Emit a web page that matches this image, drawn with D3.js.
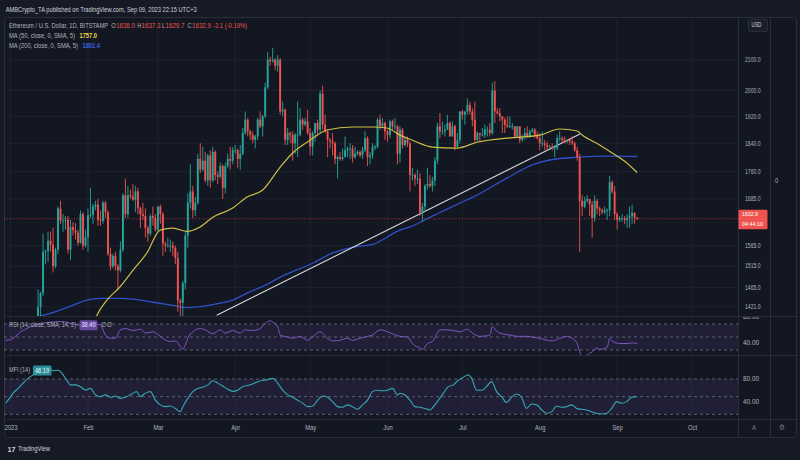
<!DOCTYPE html>
<html><head><meta charset="utf-8">
<script src="https://cdn.jsdelivr.net/npm/d3@7"></script>
<style>
html,body{margin:0;padding:0;background:#161a25;}
svg{display:block;font-family:"Liberation Sans",Arial,sans-serif;}
</style></head><body>
<svg id="c" width="800" height="460"></svg>
<script>
// ---------------- DATA ----------------
const candleStart = [2023, 0, 11]; // first daily candle (Jan 11, 2023)
// daily [open, high, low, close]
const ohlc = [
[1335,1395,1320,1390],[1390,1460,1370,1420],[1420,1455,1385,1452],[1452,1595,1445,1550],[1550,1555,1520,1552],
[1552,1600,1525,1577],[1577,1600,1550,1567],[1567,1610,1500,1515],[1515,1560,1510,1555],[1555,1665,1545,1660],
[1660,1680,1620,1628],[1628,1645,1600,1628],[1628,1640,1605,1630],[1630,1640,1545,1555],[1555,1630,1530,1612],
[1612,1625,1590,1604],[1604,1622,1580,1597],[1597,1605,1565,1572],[1572,1655,1570,1645],[1645,1650,1555,1565],
[1565,1605,1560,1586],
// Feb
[1586,1660,1550,1642],[1642,1715,1635,1643],[1643,1672,1620,1665],[1665,1680,1655,1670],[1670,1685,1615,1630],
[1630,1655,1615,1628],[1628,1680,1620,1675],[1675,1680,1635,1650],[1650,1655,1540,1545],[1545,1560,1505,1515],
[1515,1545,1510,1540],[1540,1550,1505,1515],[1515,1520,1460,1505],[1505,1575,1500,1555],[1555,1700,1550,1695],
[1695,1740,1635,1645],[1645,1720,1635,1695],[1695,1710,1685,1692],[1692,1725,1680,1683],[1683,1720,1650,1705],
[1705,1715,1645,1660],[1660,1665,1610,1645],[1645,1675,1630,1640],[1640,1660,1585,1610],[1610,1615,1575,1595],
[1595,1645,1590,1640],[1640,1665,1615,1635],[1635,1645,1600,1605],
// Mar
[1605,1665,1600,1665],[1665,1670,1620,1645],[1645,1650,1540,1570],[1570,1575,1550,1565],[1565,1585,1560,1565],
[1565,1580,1550,1565],[1565,1575,1540,1560],[1560,1565,1520,1535],[1535,1550,1410,1435],[1435,1440,1370,1430],
[1430,1480,1395,1475],[1475,1600,1460,1590],[1590,1700,1560,1675],[1675,1780,1660,1705],[1705,1720,1635,1655],
[1655,1690,1640,1675],[1675,1810,1670,1795],[1795,1840,1755,1765],[1765,1830,1760,1790],[1790,1815,1730,1735],
[1735,1810,1720,1805],[1805,1820,1715,1735],[1735,1830,1730,1815],[1815,1820,1735,1750],[1750,1760,1725,1745],
[1745,1785,1740,1775],[1775,1780,1685,1715],[1715,1785,1700,1775],[1775,1810,1770,1795],[1795,1830,1765,1790],
[1790,1830,1780,1820],
// Apr
[1820,1835,1810,1820],[1820,1825,1770,1795],[1795,1835,1765,1810],[1810,1885,1805,1870],[1870,1935,1865,1910],
[1910,1915,1860,1875],[1875,1880,1850,1865],[1865,1875,1840,1850],[1850,1865,1825,1860],[1860,1915,1850,1910],
[1910,1935,1885,1890],[1890,1925,1860,1920],[1920,2025,1915,2010],[2010,2125,2005,2100],[2100,2110,2080,2095],
[2095,2140,2090,2100],[2100,2105,2065,2080],[2080,2115,2060,2100],[2100,2105,1925,1935],[1935,1965,1920,1940],
[1940,1945,1835,1850],[1850,1885,1835,1870],[1870,1875,1840,1865],[1865,1875,1790,1840],[1840,1870,1810,1865],
[1865,1965,1800,1865],[1865,1945,1860,1910],[1910,1915,1880,1895],[1895,1915,1890,1905],[1905,1940,1865,1870],
// May
[1870,1885,1805,1830],[1830,1875,1805,1870],[1870,1900,1845,1900],[1900,1910,1860,1880],[1880,2000,1870,1990],
[1990,2015,1880,1895],[1895,1925,1870,1875],[1875,1880,1800,1850],[1850,1855,1825,1845],[1845,1870,1805,1840],
[1840,1845,1780,1795],[1795,1805,1740,1800],[1800,1815,1790,1795],[1795,1825,1790,1800],[1800,1860,1800,1820],
[1820,1830,1800,1825],[1825,1840,1795,1825],[1825,1835,1785,1800],[1800,1830,1795,1810],[1810,1820,1805,1815],
[1815,1820,1800,1805],[1805,1830,1795,1820],[1820,1875,1815,1855],[1855,1860,1775,1800],[1800,1815,1780,1805],
[1805,1840,1795,1830],[1830,1835,1820,1830],[1830,1915,1825,1910],[1910,1925,1880,1890],[1890,1915,1885,1900],
[1900,1905,1850,1875],
// Jun
[1875,1880,1845,1865],[1865,1910,1855,1905],[1905,1910,1880,1890],[1890,1915,1880,1890],[1890,1895,1780,1810],
[1810,1890,1785,1880],[1880,1885,1825,1835],[1835,1860,1830,1850],[1850,1860,1830,1840],[1840,1845,1705,1750],
[1750,1770,1735,1750],[1750,1755,1720,1740],[1740,1765,1725,1740],[1740,1755,1640,1650],[1650,1675,1625,1665],
[1665,1725,1650,1720],[1720,1770,1710,1725],[1725,1750,1715,1720],[1720,1745,1705,1735],[1735,1800,1720,1790],
[1790,1900,1780,1890],[1890,1930,1855,1875],[1875,1905,1865,1875],[1875,1895,1860,1880],[1880,1925,1880,1900],
[1900,1905,1860,1860],[1860,1905,1860,1890],[1890,1895,1820,1830],[1830,1870,1830,1850],[1850,1935,1840,1935],
// Jul
[1935,1940,1910,1925],[1925,1935,1895,1935],[1935,1975,1925,1955],[1955,1965,1925,1935],[1935,1945,1890,1910],
[1910,1965,1840,1850],[1850,1875,1845,1870],[1870,1870,1845,1865],[1865,1885,1860,1865],[1865,1895,1855,1880],
[1880,1890,1860,1880],[1880,1900,1860,1870],[1870,2025,1865,2000],[2000,2030,1900,1935],[1935,1945,1925,1930],
[1930,1945,1905,1920],[1920,1920,1870,1910],[1910,1915,1870,1895],[1895,1920,1885,1890],[1890,1920,1885,1890],
[1890,1900,1880,1890],[1890,1890,1855,1860],[1860,1890,1855,1890],[1890,1890,1840,1850],[1850,1865,1845,1860],
[1860,1885,1850,1870],[1870,1890,1855,1860],[1860,1880,1855,1875],[1875,1885,1870,1880],[1880,1885,1855,1865],
[1865,1875,1850,1855],
// Aug
[1855,1870,1820,1840],[1840,1875,1830,1840],[1840,1850,1820,1835],[1835,1845,1820,1830],[1830,1835,1820,1830],
[1830,1840,1820,1825],[1825,1835,1800,1825],[1825,1865,1820,1855],[1855,1875,1845,1855],[1855,1860,1840,1850],
[1850,1860,1840,1845],[1845,1850,1840,1850],[1850,1855,1835,1845],[1845,1860,1835,1840],[1840,1845,1815,1820],
[1820,1830,1790,1800],[1800,1810,1550,1680],[1680,1695,1640,1665],[1665,1690,1660,1680],[1680,1695,1675,1685],
[1685,1685,1640,1670],[1670,1680,1585,1635],[1635,1695,1625,1680],[1680,1685,1645,1660],[1660,1665,1640,1655],
[1655,1660,1645,1650],[1650,1665,1645,1655],[1655,1660,1630,1655],[1655,1748,1640,1730],[1730,1735,1700,1705],
[1705,1720,1630,1645],
// Sep
[1645,1650,1605,1630],[1630,1640,1625,1635],[1635,1645,1625,1635],[1635,1640,1620,1630],[1630,1645,1610,1635],
[1635,1665,1610,1640],[1640,1670,1620,1648],[1648,1650,1620,1636],[1636.0,1637.3,1629.7,1632.9]
];
// moving averages: [day since 2023-01-01, price]
const ma50 = [[33,1380],[34.6,1402],[38.6,1436],[43.8,1466],[49,1505],[54.6,1547],[59.9,1604],[65,1609],[70.7,1601],
[75.9,1612],[81,1637],[89,1661],[94.7,1690],[101,1709],[108,1772],[113,1812],[120,1849],[126.8,1879],[137,1888],
[145,1888],[150.8,1885],[156,1864],[161,1849],[169,1829],[178.8,1826],[186.9,1843],[199,1855],[212,1864],
[220,1882],[227,1876],[229,1864],[236,1835],[241,1812],[247,1783],[251,1757]];
const ma200 = [[5,1385],[10.6,1398],[15.8,1406],[22.6,1419],[30.6,1436],[35.8,1440],[43.8,1440],[49,1438],[57,1431],
[65,1424],[70.7,1419],[75.9,1421],[83.9,1429],[89,1436],[94.7,1452],[102.7,1472],[108,1489],[121,1522],[129,1547],
[137,1561],[145,1568],[156,1604],[160,1612],[170,1643],[180,1674],[185.3,1690],[199,1742],[209,1778],[216,1792],
[228,1800],[239,1803],[251,1802]];
const trendLine = [[82.6,1402],[228.1,1867]];
const lastPrice = 1632.9;
const priceTicks = [2100,2000,1920,1840,1760,1685,1565,1515,1465,1421];
const monthLabels = ["2023","Feb","Mar","Apr","May","Jun","Jul","Aug","Sep","Oct"];
// RSI and MFI: [day since 2023-01-01, value]
const rsi = [[-2,45],[0,46],[2,51],[4,58],[6,62],[8,66],[10,68],[12,71],[14,72],[17,73],[20,74],[23,72],[25,70],
[28,68],[30,70],[33,71],[36,68],[38,53],[40,48],[42,48],[44,61],[46,63],[49,60],[52,62],[54,56],[57,58],[60,51],
[62,45],[64,43],[66,44],[68,35],[69,31],[70,38],[71,48],[73,58],[76,63],[78,61],[81,55],[84,61],[86,56],[89,60],
[92,56],[94,61],[97,60],[100,63],[102,71],[104,75],[105,73],[107,66],[108,53],[111,50],[113,48],[116,51],[119,45],
[121,50],[124,58],[127,48],[129,44],[132,45],[135,48],[137,45],[140,48],[143,51],[145,53],[148,61],[151,58],
[153,55],[156,51],[159,50],[161,40],[164,33],[165,31],[167,40],[169,43],[171,56],[172,61],[175,61],[177,60],
[180,58],[183,62],[185,56],[188,51],[191,52],[192,53],[193,66],[195,58],[197,55],[200,53],[203,51],[207,51],
[209,50],[212,48],[215,45],[217,44],[220,48],[223,51],[225,48],[227,40],[228,27],[229,21],[231,22],[232,25],
[233,27],[235,33],[236,31],[239,34],[240,48],[241,44],[244,40],[247,40],[249,41],[251,40]];
const mfi = [[-2,39],[-1,44],[1,56],[3,64],[5,73],[7,81],[9,87],[11,92],[13,99],[15,99],[17,94],[19,95],[20.5,90],
[22.5,78],[24,70],[26,70],[28,67],[30,61],[32,64],[34,53],[36,50],[38,53],[40,49],[42,51],[44,47],[46.5,50],
[48.5,54.5],[50.5,58.5],[52,50],[54,56],[56,58.5],[58,44],[60,36],[62,33],[64,34],[66,30],[68,24.5],[69,33],
[71,47],[73,58.5],[75,64],[77,66],[79,70],[81,77],[83,73],[85,68],[87,62.5],[89,59],[91,61],[93,67],[95,69],
[97,71.5],[99,75.5],[101,78],[103,79],[105,81],[107,73],[109,61],[111,53],[113,49],[115,44],[117,39],[119,33],
[121,34],[123,44],[125,51],[127,49],[129,41.5],[131,33],[133,32],[135,36],[137,33],[139,28.5],[141,36],[143,44],
[145,58.5],[147,61],[149,60],[151,61],[153,64],[155,53],[156,55.7],[158,52.8],[160,44],[162,33],[164,32],[166,30],
[168,27.4],[169.4,33],[171.4,44],[173.4,56],[175.4,67],[177.4,70],[179.4,78],[181.4,83],[183.4,87],[184.7,81],
[186.7,61],[188.7,61],[190.7,67],[192.7,75.5],[194.7,58.5],[196.7,50],[198.7,40],[200.7,49],[202.7,54.5],
[204.7,49],[206.7,30],[208.7,37.5],[210.8,36],[212.8,27.4],[214.8,21.7],[216.8,24.5],[218.8,34],[220.8,32],
[222.8,33],[224.8,36],[226.8,30],[228.8,28.5],[230.8,27.4],[232.8,24.5],[234.8,21.7],[236.8,20.6],[238.8,21.7],
[240.8,30],[242.8,41.5],[244.8,38.7],[246.8,41.5],[248.8,49],[250.8,50]];
const rsiLevels = [70,50,30];
const mfiLevels = [80,50,20];

// ---------------- DRAW ----------------
const C = {page:"#161a25", bg:"#131722", frame:"#2a2e39", grid:"#1e2230", text:"#b2b5be",
  up:"#26a69a", down:"#ef5350", ma50:"#cdbf45", ma200:"#3150c8", rsi:"#7e57c2", mfi:"#35a9b6"};
const SY = 1.25; // vertical stretch of the condensed screenshot text
const svg = d3.select("#c");
const day0 = new Date(2023,0,1).getTime();
const dayDate = d => new Date(day0 + d*864e5);

const P = {l:4, r:738, top:17, mainB:316, rsiT:317, rsiB:355, mfiT:356, mfiB:419.5, axisB:437};

svg.append("rect").attr("width",800).attr("height",460).attr("fill",C.page);
svg.append("rect").attr("x",4.5).attr("y",17.5).attr("width",792).attr("height",420).attr("rx",3)
  .attr("fill",C.bg).attr("stroke",C.frame);

const x = d3.scaleTime().domain([new Date(2023,0,1), new Date(2023,9,1)]).range([10.6, 692]);
const y = d3.scaleLog().domain([1421,2100]).range([306.7,59.7]);
const yR = d3.scaleLinear().domain([30,70]).range([350,324]);
const yM = d3.scaleLinear().domain([20,80]).range([414.3,379]);

const defs = svg.append("defs");
function clip(id, y0, y1){ defs.append("clipPath").attr("id",id).append("rect")
  .attr("x",P.l).attr("y",y0).attr("width",P.r-P.l).attr("height",y1-y0); }
clip("cMain",P.top,P.mainB); clip("cRsi",P.rsiT,P.rsiB); clip("cMfi",P.mfiT,P.mfiB);
defs.append("clipPath").attr("id","cRsiAx").append("rect").attr("x",P.r).attr("y",P.rsiT).attr("width",32).attr("height",P.rsiB-P.rsiT);

const months = monthLabels.map((_,i)=>new Date(2023,i,1));

// text helper: condensed look = small font stretched vertically
function T(parent, xx, yy, s, col, fs, opt={}){
  const t = parent.append("text").attr("transform",`translate(${xx},${yy}) scale(1,${opt.sy||SY})`)
    .attr("fill",col).attr("font-size",fs).attr("dominant-baseline","middle").text(s);
  if(opt.bold) t.attr("font-weight","bold");
  if(opt.anchor) t.attr("text-anchor",opt.anchor);
  if(opt.len) t.attr("textLength",opt.len).attr("lengthAdjust","spacingAndGlyphs");
  return t;
}

// grids
const grid = svg.append("g");
grid.selectAll(".vg").data(months).join("line")
  .attr("x1",d=>x(d)).attr("x2",d=>x(d)).attr("y1",P.top).attr("y2",P.mfiB)
  .attr("stroke",C.grid).attr("stroke-width",1);
grid.selectAll(".hg").data(priceTicks).join("line")
  .attr("x1",P.l).attr("x2",P.r).attr("y1",d=>y(d)).attr("y2",d=>y(d))
  .attr("stroke",C.grid).attr("stroke-width",1);

// pane separators
[P.mainB+0.5, P.rsiB+0.5, P.mfiB].forEach(v=>{
  svg.append("line").attr("x1",P.l).attr("x2",796).attr("y1",v).attr("y2",v).attr("stroke",C.frame);
});
svg.append("line").attr("x1",P.r+0.5).attr("x2",P.r+0.5).attr("y1",P.top).attr("y2",P.axisB).attr("stroke",C.frame);
svg.append("line").attr("x1",770.5).attr("x2",770.5).attr("y1",P.top).attr("y2",P.axisB).attr("stroke",C.frame);

// ---- main pane
const gMain = svg.append("g").attr("clip-path","url(#cMain)");
const line = (yy)=>d3.line().x(d=>x(dayDate(d[0]))).y(d=>yy(d[1])).curve(d3.curveMonotoneX);

gMain.append("path").datum(ma200).attr("d",line(y)).attr("fill","none").attr("stroke",C.ma200).attr("stroke-width",1.3);
gMain.append("path").datum(trendLine).attr("d",d3.line().x(d=>x(dayDate(d[0]))).y(d=>y(d[1])))
  .attr("fill","none").attr("stroke","#d8d8dc").attr("stroke-width",1.1);

const start = new Date(candleStart[0],candleStart[1],candleStart[2]);
const candles = ohlc.map((d,i)=>({date:d3.timeDay.offset(start,i), o:d[0],h:d[1],l:d[2],c:d[3]}));
const cg = gMain.append("g").selectAll("g").data(candles).join("g");
cg.append("line").attr("x1",d=>x(d.date)).attr("x2",d=>x(d.date))
  .attr("y1",d=>y(d.h)).attr("y2",d=>y(d.l))
  .attr("stroke",d=>d.c>=d.o?C.up:C.down).attr("stroke-width",0.9);
cg.append("rect").attr("x",d=>x(d.date)-0.95).attr("width",1.9)
  .attr("y",d=>y(Math.max(d.o,d.c)))
  .attr("height",d=>Math.max(0.8, y(Math.min(d.o,d.c))-y(Math.max(d.o,d.c))))
  .attr("fill",d=>d.c>=d.o?C.up:C.down);

gMain.append("path").datum(ma50).attr("d",line(y)).attr("fill","none").attr("stroke",C.ma50).attr("stroke-width",1.2);

// last price line
svg.append("line").attr("x1",P.l).attr("x2",P.r).attr("y1",y(lastPrice)).attr("y2",y(lastPrice))
  .attr("stroke",C.down).attr("stroke-opacity",0.75).attr("stroke-width",0.8).attr("stroke-dasharray","1,1.5");

// price axis
const pa = svg.append("g").attr("transform",`translate(${P.r+3},0)`)
  .call(d3.axisRight(y).tickValues(priceTicks).tickFormat(d=>d.toFixed(1)).tickSize(0).tickPadding(4));
pa.select(".domain").remove();
pa.selectAll("text").attr("fill",C.text).attr("font-size",5.4).attr("font-family","Liberation Sans, Arial")
  .attr("dy",null).attr("dominant-baseline","middle").attr("transform",`scale(1,${SY})`)
  .attr("textLength",15.5).attr("lengthAdjust","spacingAndGlyphs");

// last price badge
svg.append("rect").attr("x",738.5).attr("y",y(lastPrice)-9).attr("width",29).attr("height",19.5).attr("rx",1).attr("fill","#f0534f");
T(svg,742,y(lastPrice)-4.2,lastPrice.toFixed(1),"#fff",5.4,{len:16,sy:1.15});
T(svg,742,y(lastPrice)+5.6,"04:44:10","#fff",5.4,{len:21,sy:1.15});

// USD box & right column
svg.append("rect").attr("x",748.5).attr("y",19.5).attr("width",19).attr("height",12).attr("rx",1.5)
  .attr("fill","#1a1e2a").attr("stroke",C.frame);
T(svg,751.5,25.6,"USD","#d1d4dc",5.4,{len:10});
T(svg,775,181,"0",C.text,5.8);

// ---- RSI pane
svg.append("rect").attr("x",P.l).attr("width",P.r-P.l).attr("y",yR(70)).attr("height",yR(30)-yR(70))
  .attr("fill","rgba(126,87,194,0.13)");
svg.append("g").selectAll("line").data(rsiLevels).join("line")
  .attr("x1",P.l).attr("x2",P.r).attr("y1",d=>yR(d)).attr("y2",d=>yR(d))
  .attr("stroke","#787b86").attr("stroke-opacity",0.7).attr("stroke-dasharray","3,3");
svg.append("g").attr("clip-path","url(#cRsi)").append("path").datum(rsi).attr("d",line(yR))
  .attr("fill","none").attr("stroke",C.rsi).attr("stroke-width",1);
const ra = svg.append("g").attr("clip-path","url(#cRsiAx)");
[80,40].forEach(v=>T(ra,743,yR(v),v.toFixed(2),C.text,5.4,{len:16}));

// ---- MFI pane
svg.append("rect").attr("x",P.l).attr("width",P.r-P.l).attr("y",yM(80)).attr("height",yM(20)-yM(80))
  .attr("fill","rgba(126,87,194,0.13)");
svg.append("g").selectAll("line").data(mfiLevels).join("line")
  .attr("x1",P.l).attr("x2",P.r).attr("y1",d=>yM(d)).attr("y2",d=>yM(d))
  .attr("stroke","#787b86").attr("stroke-opacity",0.7).attr("stroke-dasharray","3,3");
svg.append("g").attr("clip-path","url(#cMfi)").append("path").datum(mfi).attr("d",line(yM))
  .attr("fill","none").attr("stroke",C.mfi).attr("stroke-width",1.1);
[80,40].forEach(v=>T(svg,743,yM(v),v.toFixed(2),C.text,5.4,{len:16}));

// ---- time axis
const ta = svg.append("g").attr("transform",`translate(0,${P.mfiB})`)
  .call(d3.axisBottom(x).tickValues(months).tickFormat((d,i)=>monthLabels[i]).tickSize(0).tickPadding(4));
ta.select(".domain").remove();
ta.selectAll("text").attr("fill",C.text).attr("font-size",5.8).attr("font-family","Liberation Sans, Arial")
  .attr("y",7.2).attr("dy",null).attr("dominant-baseline","middle").attr("transform",`scale(1,${SY})`);
T(svg,754,428.5,"A","#787b86",6,{anchor:"middle"});
T(svg,782,428.5,"⚙","#787b86",6,{anchor:"middle"});

// ---- legends / texts
T(svg,5.7,10,"AMBCrypto_TA published on TradingView.com, Sep 09, 2023 22:15 UTC+3","#d1d4dc",5.6,{len:191});
const L1 = 25.7;
T(svg,9,L1,"Ethereum / U.S. Dollar, 1D, BITSTAMP",C.text,5.6,{len:99});
T(svg,111.2,L1,"O",C.text,5.6); T(svg,116,L1,"1636.0",C.down,5.6,{len:19});
T(svg,137.2,L1,"H",C.text,5.6); T(svg,141.5,L1,"1637.3",C.down,5.6,{len:19});
T(svg,162,L1,"L",C.text,5.6);   T(svg,165.5,L1,"1629.7",C.down,5.6,{len:19});
T(svg,187.5,L1,"C",C.text,5.6); T(svg,192,L1,"1632.9",C.down,5.6,{len:19});
T(svg,213,L1,"-3.1 (-0.19%)",C.down,5.6,{len:34});
T(svg,9,35.9,"MA (50, close, 0, SMA, 5)",C.text,5.6,{len:66});
T(svg,79.5,35.9,"1757.0","#e8d84a",5.6,{bold:true,len:17.5});
T(svg,9,46.2,"MA (200, close, 0, SMA, 5)",C.text,5.6,{len:69});
T(svg,82.5,46.2,"1802.4","#3c5fe0",5.6,{bold:true,len:17.5});

T(svg,9,325.3,"RSI (14, close, SMA, 14, 2)",C.text,5.6,{len:67});
svg.append("rect").attr("x",79.5).attr("y",320.3).attr("width",18).attr("height",10).attr("rx",1.5).attr("fill","rgba(126,87,194,0.75)");
T(svg,81.5,325.5,"38.40","#ece6f8",5.6,{len:14});
T(svg,100.5,325.3,"∅ ∅",C.text,5.6,{len:11});

T(svg,9,370.5,"MFI (14)",C.text,5.6,{len:21});
svg.append("rect").attr("x",33).attr("y",365.5).attr("width",18.5).attr("height",10).attr("rx",1.5).attr("fill","rgba(53,169,182,0.8)");
T(svg,35,370.7,"46.19","#eef9fa",5.6,{len:14});

// bottom logo
T(svg,7.5,449.5,"17","#d1d4dc",6.4,{bold:true,len:8});
T(svg,18,449.5,"TradingView","#d1d4dc",6,{len:32});
</script>
</body></html>
